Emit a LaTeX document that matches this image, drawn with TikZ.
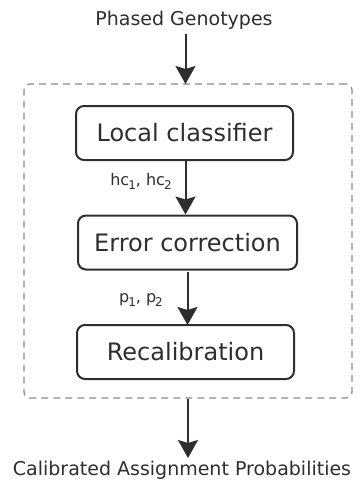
\documentclass[tikz,border=0pt]{standalone}
\usepackage{fontspec}
\setmainfont{DejaVu Sans}
\usetikzlibrary{arrows.meta}
\definecolor{ink}{HTML}{2E2E2E}
\definecolor{frameg}{HTML}{8A8A8A}
\newcommand{\subnum}[1]{\kern-1pt\raisebox{-4.5pt}{\fontsize{12}{14}\selectfont #1}}
\tikzset{
  stepbox/.style={draw=ink, line width=2pt, rounded corners=8pt, minimum width=217pt, minimum height=54pt, inner sep=0pt, font=\fontsize{24}{28}\selectfont, text=ink},
  frame/.style={draw=frameg, line width=1.2pt, dash pattern=on 7pt off 5pt, rounded corners=6pt, inner sep=0pt},
  flow/.style={draw=ink, line width=2pt, -{Stealth[length=18pt,width=20pt,inset=3pt]}},
  io/.style={inner sep=0pt, font=\fontsize{19}{22}\selectfont, text=ink},
  lbl/.style={inner sep=0pt, font=\fontsize{16}{19}\selectfont, text=ink}
}
\begin{document}
\begin{tikzpicture}[x=1pt,y=-1pt]
\useasboundingbox (0,0) rectangle (361,482);
\node[frame, minimum width=328pt, minimum height=314pt] (fr) at (188,241) {};
\node[io, anchor=base] (in) at (184,25) {Phased Genotypes};
\node[stepbox] (b1) at (184.5,133) {Local classifier};
\node[stepbox, minimum width=219pt] (b2) at (187.5,242.5) {Error correction};
\node[stepbox] (b3) at (185.5,352) {Recalibration};
\node[io, anchor=base] (out) at (182,475) {Calibrated Assignment Probabilities};
\node[lbl, anchor=base] (l1) at (141,185) {hc\subnum{1}, hc\subnum{2}};
\node[lbl, anchor=base] (l2) at (141,302) {p\subnum{1}, p\subnum{2}};
\coordinate (t1) at (185.5,84);
\coordinate (o) at (188,458);
\draw[flow] (in.south -| t1) ++(0,5) -- (t1);
\draw[flow] ([xshift=1pt]b1.south) -- ([xshift=1pt]b1.south |- b2.north);
\draw[flow] (b2.south) ++(0,1) -- ([yshift=-1pt]b2.south |- b3.north);
\draw[flow] (fr.south -| o) -- (o);
\end{tikzpicture}
\end{document}
